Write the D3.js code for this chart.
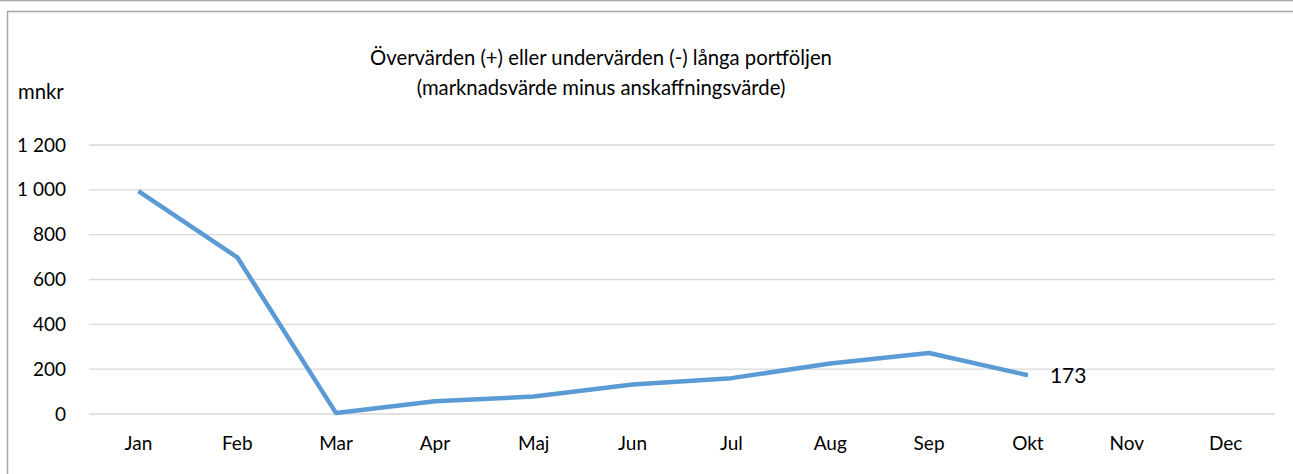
<!DOCTYPE html>
<html>
<head>
<meta charset="utf-8">
<script src="https://cdn.jsdelivr.net/npm/d3@7"></script>
<style>
  body { margin: 0; background: #fff; }
  svg text { font-family: Lato, "Open Sans", sans-serif; fill: #000; }
</style>
</head>
<body>
<div id="chart"></div>
<script>
// data
const months = ["Jan", "Feb", "Mar", "Apr", "Maj", "Jun", "Jul", "Aug", "Sep", "Okt", "Nov", "Dec"];
const values = [994, 699, 4, 57, 78, 132, 160, 225, 272, 173];
const yTicks = [0, 200, 400, 600, 800, 1000, 1200];
const titleLines = ["Övervärden (+) eller undervärden (-) långa portföljen", "(marknadsvärde minus anskaffningsvärde)"];
const unitLabel = "mnkr";

const W = 1293, H = 474;
const margin = { top: 145, right: 18, bottom: 60, left: 89 },
    width = W - margin.left - margin.right,
    height = 414 - margin.top;

const root = d3.select("#chart")
  .append("svg")
    .attr("width", W)
    .attr("height", H);

// outer frame
root.append("line")
  .attr("x1", 0).attr("x2", W).attr("y1", 0.5).attr("y2", 0.5)
  .attr("stroke", "#a6a6a6").attr("stroke-width", 1.5);
root.append("path")
  .attr("d", `M7.5,${H + 2}V11.5H${W + 2}`)
  .attr("fill", "none").attr("stroke", "#a6a6a6").attr("stroke-width", 1.5);

const svg = root.append("g")
  .attr("transform", `translate(${margin.left},${margin.top})`);

// scales
const x = d3.scaleBand()
  .domain(months)
  .range([0, width]);

const y = d3.scaleLinear()
  .domain([0, 1200])
  .range([height, 0]);

// grid
svg.append("g")
  .selectAll("line")
  .data(yTicks)
  .join("line")
    .attr("x1", 0).attr("x2", width)
    .attr("y1", d => y(d)).attr("y2", d => y(d))
    .attr("stroke", "#d9d9d9").attr("stroke-width", 1.3);

// y axis labels
const fmt = d => d3.format(",")(d).replace(/,/g, " ");
const yAxis = svg.append("g")
  .attr("transform", "translate(-23,0)")
  .call(d3.axisLeft(y).tickValues(yTicks).tickFormat(fmt).tickSize(0).tickPadding(0));
yAxis.select(".domain").remove();
yAxis.selectAll("text").style("font-size", "19px");

// x axis labels
const xAxis = svg.append("g")
  .attr("transform", `translate(0,${height + 22})`)
  .call(d3.axisBottom(x).tickSize(0).tickPadding(0));
xAxis.select(".domain").remove();
xAxis.selectAll("text").style("font-size", "19px");

// line
const pts = values.map((v, i) => [months[i], v]);
svg.append("path")
  .datum(pts)
  .attr("fill", "none")
  .attr("stroke", "#5b9bd5")
  .attr("stroke-width", 4.5)
  .attr("stroke-linejoin", "round")
  .attr("d", d3.line()
    .x(d => x(d[0]) + x.bandwidth() / 2)
    .y(d => y(d[1])));

// value label for last point
const last = pts[pts.length - 1];
svg.append("text")
  .attr("x", x(last[0]) + x.bandwidth() / 2 + 22)
  .attr("y", y(last[1]))
  .attr("dy", "0.35em")
  .style("font-size", "21px")
  .text(last[1]);

// title
root.append("g")
  .selectAll("text")
  .data(titleLines)
  .join("text")
    .attr("x", 601)
    .attr("y", (d, i) => 65 + i * 30)
    .attr("text-anchor", "middle")
    .style("font-size", "20.3px")
    .text(d => d);

// unit
root.append("text")
  .attr("x", 18).attr("y", 99)
  .style("font-size", "20.3px")
  .text(unitLabel);
</script>
</body>
</html>
